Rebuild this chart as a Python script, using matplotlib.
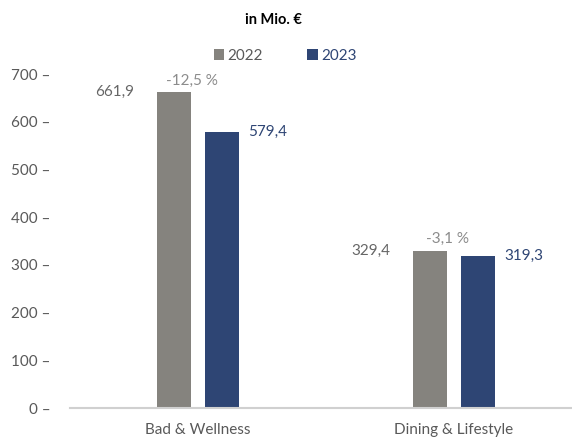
import numpy as np
import matplotlib.pyplot as plt

categories = ['Bad & Wellness', 'Dining & Lifestyle']
vals_2022 = [661.9, 329.4]
vals_2023 = [579.4, 319.3]
labels_2022 = ['661,9', '329,4']
labels_2023 = ['579,4', '319,3']
changes = ['-12,5 %', '-3,1 %']
yticks = [0, 100, 200, 300, 400, 500, 600, 700]

gray = '#85837e'
blue = '#2e4574'
txt = '#595959'

plt.rcParams['font.family'] = ['Lato', 'DejaVu Sans']

fig = plt.figure(figsize=(5.72, 4.41), dpi=100)
ax = fig.add_axes([70/572, 33/441, 502/572, 334/441])

x = np.arange(len(categories))
off = 0.094
w = 0.133
ax.bar(x - off, vals_2022, w, color=gray, label='2022')
ax.bar(x + off, vals_2023, w, color=blue, label='2023')

ax.set_xlim(-0.5, 1.461)
ax.set_ylim(0, 700)

for i in range(len(categories)):
    ax.text(x[i] - off - w/2 - 0.09, vals_2022[i], labels_2022[i], ha='right', va='center',
            fontsize=11, color='#666666')
    ax.text(x[i] + off + w/2 + 0.035, vals_2023[i], labels_2023[i], ha='left', va='center',
            fontsize=11, color=blue)
    ax.text(x[i] - off + 0.07, vals_2022[i] + 24, changes[i], ha='center', va='center',
            fontsize=11, color='#8c8c8c')

for s in ['top', 'right', 'left']:
    ax.spines[s].set_visible(False)
ax.spines['bottom'].set_color('#d0d0d0')
ax.spines['bottom'].set_linewidth(1.5)

ax.set_yticks(yticks)
ax.set_yticklabels([f'{t} –' for t in yticks], fontsize=11, color=txt)
ax.tick_params(axis='y', length=0, pad=14)
ax.set_xticks(x)
ax.set_xticklabels(categories, fontsize=11, color=txt)
ax.tick_params(axis='x', length=0, pad=11)

leg = fig.legend(loc='center', bbox_to_anchor=(285/572, 1 - 56/441), ncol=2, frameon=False,
                 fontsize=11, handlelength=0.7, handleheight=0.7, handletextpad=0.2,
                 columnspacing=2.9)
for t, c in zip(leg.get_texts(), [txt, blue]):
    t.set_color(c)

fig.text(273/572, 1 - 20/441, 'in Mio. €', ha='center', va='center', fontsize=10.5,
         fontweight='bold', color='black')

fig.savefig('out.png', dpi=100)
